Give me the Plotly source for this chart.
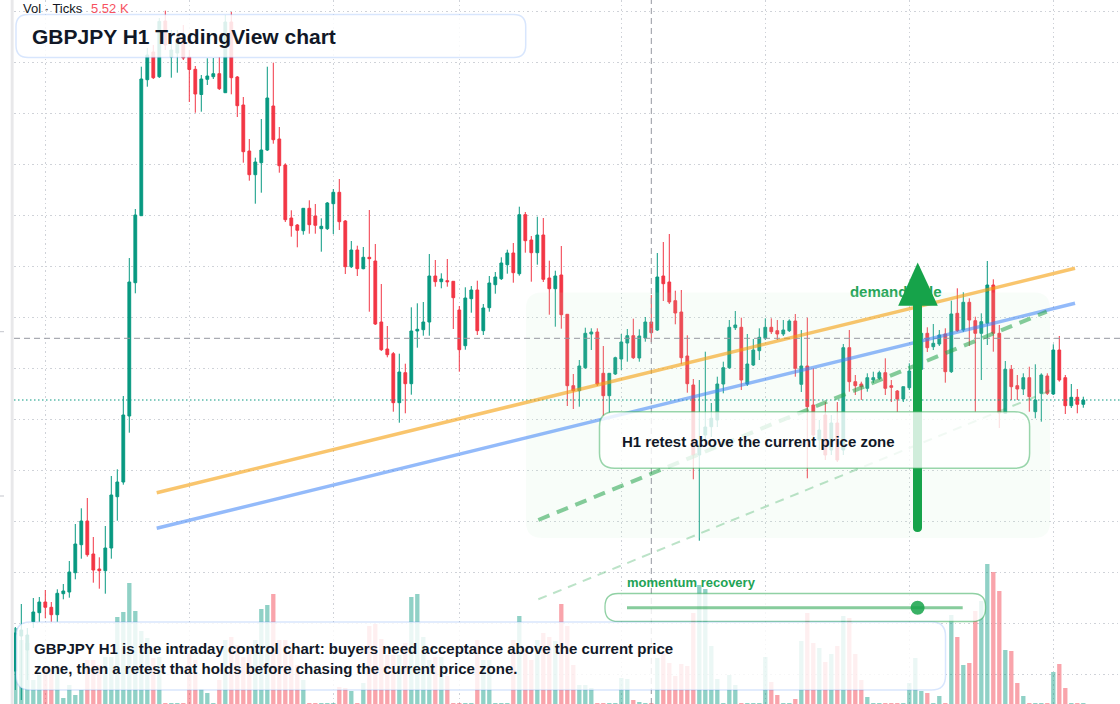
import plotly.graph_objects as go

W, H = 1120, 704

# ---------------- data (GBPJPY, H1) ----------------
open_ = [193.29, 193.64, 193.50, 193.783, 193.873, 193.98, 193.927, 193.853, 194.063, 194.08,
         194.273, 194.553, 194.79, 194.46, 194.31, 194.293, 194.52, 195.033, 195.18, 195.84,
         197.173, 197.843, 199.203, 199.48, 199.233, 199.79, 199.43, 199.47, 199.62, 199.43,
         199.307, 199.055, 199.207, 199.233, 199.263, 199.073, 199.78, 199.23, 198.95, 198.49,
         198.253, 198.373, 198.50, 198.94, 198.61, 198.35, 197.82, 197.75, 197.693, 197.917,
         197.84, 197.713, 197.713, 197.963, 198.077, 197.79, 197.333, 197.50, 197.313, 197.427,
         197.39, 196.78, 196.51, 196.463, 195.973, 196.273, 196.163, 196.69, 196.703, 196.78,
         197.24, 197.183, 197.193, 197.187, 196.90, 196.543, 197.013, 197.10, 196.693, 196.923,
         197.153, 197.213, 197.353, 197.47, 197.263, 197.853, 197.60, 197.473, 197.65, 197.22,
         197.113, 197.25, 196.857, 196.143, 196.093, 196.323, 196.66, 196.68, 196.267, 196.043,
         196.26, 196.41, 196.57, 196.643, 196.42, 196.62, 196.78, 196.70, 197.24, 197.18,
         196.993, 196.88, 196.44, 196.15, 195.45, 195.65, 195.733, 195.80, 196.16, 196.323,
         196.723, 196.727, 196.16, 196.35, 196.493, 196.617, 196.727, 196.693, 196.66, 196.693,
         196.79, 196.157, 196.34, 195.95, 195.60, 195.85, 195.50, 195.77, 195.50, 196.523,
         196.183, 196.16, 196.117, 196.20, 196.217, 196.273, 196.143, 196.09, 196.01, 196.123,
         196.29, 196.307, 196.667, 196.533, 196.56, 196.66, 196.283, 196.867, 196.70, 196.977,
         196.793, 196.667, 196.767, 197.15, 196.667, 195.867, 196.307, 196.143, 196.11, 196.223,
         195.883, 196.067, 196.24, 196.06, 196.50, 196.223, 195.943, 196.027, 195.957]
high = [193.73, 193.96, 193.72, 194.02, 194.03, 194.10, 193.98, 194.107, 194.16, 194.39,
        194.76, 194.917, 195.02, 194.63, 194.427, 194.74, 195.24, 195.307, 196.04, 197.42,
        197.91, 199.333, 199.52, 199.55, 199.82, 199.893, 199.70, 199.70, 199.75, 199.50,
        199.34, 199.25, 199.417, 199.42, 199.43, 199.85, 199.88, 199.24, 199.03, 198.61,
        198.423, 198.81, 199.333, 199.373, 198.73, 198.367, 197.897, 197.76, 197.92, 197.997,
        197.96, 197.817, 197.98, 198.11, 198.21, 197.80, 197.59, 197.543, 197.53, 197.90,
        197.56, 197.16, 196.74, 196.48, 196.463, 196.363, 196.927, 196.967, 196.98, 197.46,
        197.40, 197.267, 197.41, 197.19, 196.94, 197.127, 197.14, 197.193, 196.96, 197.24,
        197.28, 197.427, 197.503, 197.57, 197.933, 197.88, 197.64, 197.833, 197.82, 197.393,
        197.293, 197.54, 196.86, 196.26, 196.40, 196.723, 196.717, 196.717, 196.54, 196.27,
        196.433, 196.66, 196.71, 196.813, 196.707, 196.83, 197.05, 197.47, 197.58, 197.66,
        197.093, 197.10, 196.647, 196.21, 196.20, 196.483, 195.97, 196.233, 196.383, 196.80,
        196.89, 196.823, 196.66, 196.61, 196.717, 196.817, 196.817, 196.80, 196.80, 196.807,
        196.86, 196.70, 196.823, 196.317, 195.80, 195.98, 195.85, 195.98, 196.56, 196.70,
        196.25, 196.183, 196.267, 196.283, 196.293, 196.417, 196.20, 196.10, 196.133, 196.367,
        196.50, 196.75, 196.727, 196.76, 196.70, 196.717, 196.993, 197.117, 197.077, 197.017,
        196.833, 196.867, 197.39, 197.207, 196.75, 196.39, 196.35, 196.25, 196.267, 196.333,
        196.357, 196.267, 196.267, 196.557, 196.64, 196.25, 196.16, 196.11, 196.033]
low = [193.10, 193.00, 193.20, 193.72, 193.783, 193.817, 193.783, 193.783, 194.007, 194.023,
       194.207, 194.413, 194.433, 194.173, 194.113, 194.063, 194.413, 194.793, 195.153, 195.673,
       197.067, 197.84, 199.133, 199.21, 199.22, 199.50, 199.223, 199.273, 199.40, 198.98,
       198.873, 198.883, 199.15, 199.21, 199.10, 199.07, 199.057, 198.83, 198.373, 198.193,
       197.963, 198.073, 198.49, 198.563, 198.273, 197.78, 197.633, 197.527, 197.653, 197.663,
       197.663, 197.483, 197.70, 197.66, 197.70, 197.26, 197.32, 197.24, 197.307, 196.883,
       196.75, 196.49, 196.427, 195.883, 195.773, 195.867, 196.053, 196.523, 196.643, 196.643,
       197.133, 197.117, 197.133, 196.71, 196.283, 196.503, 196.873, 196.65, 196.65, 196.883,
       197.063, 197.20, 197.263, 197.173, 197.243, 197.473, 197.183, 197.353, 197.18, 196.853,
       196.733, 196.713, 195.94, 195.91, 195.933, 196.31, 196.50, 196.14, 195.84, 195.87,
       196.25, 196.30, 196.383, 196.41, 196.383, 196.583, 196.58, 196.69, 196.99, 196.96,
       196.757, 196.357, 196.073, 195.207, 194.593, 195.60, 195.63, 195.73, 196.067, 196.31,
       196.70, 196.10, 196.14, 196.34, 196.40, 196.60, 196.66, 196.60, 196.64, 196.68,
       196.233, 196.08, 195.217, 195.60, 195.50, 195.40, 195.45, 195.38, 195.45, 196.083,
       196.05, 196.00, 196.083, 196.17, 196.20, 196.05, 195.98, 195.88, 195.98, 196.10,
       196.25, 196.29, 196.48, 196.50, 196.54, 196.173, 196.27, 196.68, 196.68, 196.54,
       195.883, 196.20, 196.55, 196.483, 195.72, 195.86, 196.00, 196.00, 196.05, 195.883,
       195.817, 195.783, 196.05, 196.05, 196.183, 195.86, 195.92, 195.867, 195.923]
close = [193.67, 193.70, 193.65, 193.88, 193.98, 193.927, 193.853, 194.067, 194.09, 194.28,
         194.56, 194.79, 194.453, 194.30, 194.293, 194.52, 195.05, 195.18, 195.85, 197.18,
         197.85, 199.21, 199.45, 199.223, 199.786, 199.55, 199.50, 199.60, 199.42, 199.305,
         199.06, 199.21, 199.24, 199.263, 199.113, 199.78, 199.223, 198.943, 198.483, 198.253,
         198.38, 198.50, 199.02, 198.603, 198.343, 197.803, 197.743, 197.697, 197.917, 197.753,
         197.747, 197.737, 197.97, 198.077, 197.783, 197.333, 197.50, 197.313, 197.427, 197.413,
         196.76, 196.503, 196.453, 195.973, 196.28, 196.163, 196.69, 196.707, 196.78, 197.24,
         197.183, 197.21, 197.183, 197.023, 196.503, 197.02, 197.10, 196.693, 196.92, 197.17,
         197.23, 197.37, 197.47, 197.273, 197.853, 197.593, 197.473, 197.65, 197.207, 197.113,
         197.24, 196.853, 196.143, 196.093, 196.34, 196.667, 196.68, 196.16, 196.043, 196.267,
         196.423, 196.58, 196.643, 196.423, 196.64, 196.78, 196.673, 197.23, 197.163, 196.98,
         196.87, 196.423, 196.163, 195.45, 195.55, 195.73, 195.817, 196.16, 196.323, 196.727,
         196.75, 196.20, 196.36, 196.50, 196.627, 196.727, 196.683, 196.66, 196.70, 196.79,
         196.317, 196.34, 195.933, 195.65, 195.70, 195.45, 195.77, 195.40, 196.523, 196.183,
         196.143, 196.133, 196.223, 196.223, 196.273, 196.117, 196.127, 196.01, 196.133, 196.29,
         196.45, 196.667, 196.523, 196.567, 196.65, 196.283, 196.86, 196.693, 196.977, 196.80,
         196.667, 196.783, 197.15, 196.667, 195.87, 196.307, 196.133, 196.11, 196.223, 196.033,
         196.00, 196.25, 196.067, 196.50, 196.20, 195.943, 196.027, 195.957, 196.00]
volume = [3040, 2560, 2440, 960, 1160, 1480, 1360, 1560, 240, 760,
          360, 560, 1760, 1760, 1560, 1880, 1880, 3480, 3680, 4840,
          3720, 2920, 2640, 1840, 1880, 40, 40, 40, 40, 2040,
          1760, 600, 440, 40, 960, 2560, 2680, 2360, 1880, 2160,
          2560, 3800, 3960, 4400, 2560, 2560, 2160, 1560, 960, 40,
          40, 40, 40, 40, 680, 640, 520, 40, 840, 3120,
          3200, 2600, 1960, 1960, 1960, 2440, 4280, 4400, 2680, 1760,
          1880, 1880, 1120, 40, 40, 40, 40, 2560, 1760, 1760,
          40, 40, 40, 2560, 3520, 2160, 1760, 2560, 2840, 2680,
          2520, 4000, 3120, 1560, 760, 760, 640, 40, 40, 40,
          40, 1040, 1000, 160, 80, 40, 40, 1840, 2040, 1640,
          1120, 1600, 1520, 3640, 4760, 4600, 2320, 1000, 40, 1160,
          760, 40, 40, 40, 40, 1880, 880, 360, 40, 40,
          200, 2520, 3640, 2440, 2240, 1680, 2000, 2320, 3520, 3440,
          2000, 960, 280, 40, 40, 40, 40, 40, 40, 840,
          1840, 520, 440, 40, 320, 40, 3560, 2680, 1560, 1640,
          3720, 4120, 5600, 5280, 4520, 2160, 2120, 840, 320, 40,
          40, 40, 40, 1280, 1600, 640, 40, 40, 40]
bar_index = list(range(len(close)))

title_text = "GBPJPY H1 TradingView chart"
legend_label = "Vol · Ticks"
legend_value = "5.52 K"
retest_label = "H1 retest above the current price zone"
demand_label = "demand side"
momentum_label = "momentum recovery"
note_text = ("GBPJPY H1 is the intraday control chart: buyers need acceptance above the current price"
             "<br>zone, then a retest that holds before chasing the current price zone.")

# drawing anchors (bar index, price)
orange_line = [(23.57, 195.073), (176.62, 197.317)]
blue_line = [(23.57, 194.717), (176.62, 196.967)]
green_dash = [(87.17, 194.80), (171.9, 196.883)]
green_dash_light = [(87.17, 194.007), (172.73, 196.10)]
crosshair_bar = 106
crosshair_price = 196.617
demand_anchor = (139.1, 197.067)

# ---------------- styling helpers ----------------
UP, DOWN = "#089981", "#F23645"
FONT = "Liberation Sans, Arial, sans-serif"
DARK = "#111827"
GREEN = "#16a34a"


def px(x, y):
    return f"{x / W:.5f},{1 - y / H:.5f}"


def rounded(x0, y0, x1, y1, r):
    return (f"M {px(x0 + r, y0)} L {px(x1 - r, y0)} Q {px(x1, y0)} {px(x1, y0 + r)} "
            f"L {px(x1, y1 - r)} Q {px(x1, y1)} {px(x1 - r, y1)} L {px(x0 + r, y1)} "
            f"Q {px(x0, y1)} {px(x0, y1 - r)} L {px(x0, y0 + r)} Q {px(x0, y0)} {px(x0 + r, y0)} Z")


vol_colors = ["rgba(8,153,129,0.45)" if c >= o else "rgba(242,54,69,0.45)"
              for o, c in zip(open_, close)]

fig = go.Figure()
fig.add_trace(go.Bar(x=bar_index, y=volume, marker=dict(color=vol_colors, line=dict(width=0)),
                     yaxis="y2", hoverinfo="skip", showlegend=False))
fig.add_trace(go.Candlestick(
    x=bar_index, open=open_, high=high, low=low, close=close,
    increasing=dict(line=dict(color=UP, width=1), fillcolor=UP),
    decreasing=dict(line=dict(color=DOWN, width=1), fillcolor=DOWN),
    whiskerwidth=0, hoverinfo="skip", showlegend=False))
fig.add_trace(go.Scatter(x=[demand_anchor[0]], y=[demand_anchor[1]], mode="text",
                         text=[demand_label], textposition="middle right",
                         textfont=dict(family=FONT, size=15, color="#22a355", weight="bold"),
                         hoverinfo="skip", showlegend=False))

shapes = []
# left axis strip
shapes.append(dict(type="rect", xref="paper", yref="paper", x0=10.7 / W, x1=13.6 / W, y0=0, y1=1,
                   fillcolor="#e8e8ea", line=dict(width=0), layer="above"))
for ty in (331.7, 496):
    shapes.append(dict(type="line", xref="paper", yref="paper", x0=0, x1=4 / W,
                       y0=1 - ty / H, y1=1 - ty / H, line=dict(color="#c3c5cc", width=1), layer="above"))
# demand zone
shapes.append(dict(type="path", xref="paper", yref="paper", path=rounded(526, 292.5, 1050, 538, 16),
                   fillcolor="rgba(198,241,206,0.12)", line=dict(width=0), layer="above"))
# crosshair + last price
shapes.append(dict(type="line", xref="paper", yref="y", x0=14 / W, x1=1, y0=crosshair_price, y1=crosshair_price,
                   line=dict(color="#9598a1", width=1, dash="6px,4px"), layer="above"))
shapes.append(dict(type="line", xref="x", yref="paper", x0=crosshair_bar, x1=crosshair_bar, y0=0, y1=1,
                   line=dict(color="#9598a1", width=1, dash="6px,4px"), layer="above"))
shapes.append(dict(type="line", xref="paper", yref="y", x0=14 / W, x1=1, y0=close[-1], y1=close[-1],
                   line=dict(color=UP, width=1.2, dash="1.5px,2.5px"), layer="above"))
# trend lines
for pts, col in ((orange_line, "rgba(245,158,11,0.6)"), (blue_line, "rgba(59,130,246,0.55)")):
    shapes.append(dict(type="line", xref="x", yref="y", x0=pts[0][0], y0=pts[0][1], x1=pts[1][0], y1=pts[1][1],
                       line=dict(color=col, width=3.5), layer="above"))
shapes.append(dict(type="line", xref="x", yref="y", x0=green_dash[0][0], y0=green_dash[0][1],
                   x1=green_dash[1][0], y1=green_dash[1][1],
                   line=dict(color="rgba(34,163,74,0.55)", width=4, dash="12px,8px"), layer="above"))
shapes.append(dict(type="line", xref="x", yref="y", x0=green_dash_light[0][0], y0=green_dash_light[0][1],
                   x1=green_dash_light[1][0], y1=green_dash_light[1][1],
                   line=dict(color="rgba(34,163,74,0.3)", width=2, dash="9px,7px"), layer="above"))
# arrow
shapes.append(dict(type="path", xref="paper", yref="paper",
                   path=(f"M {px(913, 300)} L {px(922, 300)} L {px(922, 527.5)} Q {px(922, 532)} {px(917.5, 532)} "
                         f"Q {px(913, 532)} {px(913, 527.5)} Z"),
                   fillcolor=GREEN, line=dict(width=0), layer="above"))
shapes.append(dict(type="path", xref="paper", yref="paper",
                   path=f"M {px(917.7, 262.5)} L {px(937.8, 305.8)} L {px(898.2, 305.8)} Z",
                   fillcolor=GREEN, line=dict(width=0), layer="above"))
# retest box
shapes.append(dict(type="path", xref="paper", yref="paper", path=rounded(599.5, 411.7, 1029.6, 468.3, 15),
                   fillcolor="rgba(255,255,255,0.8)", line=dict(color="rgba(34,163,74,0.45)", width=1.5),
                   layer="above"))
# momentum slider
shapes.append(dict(type="path", xref="paper", yref="paper", path=rounded(605, 593.5, 985.5, 621.5, 13),
                   fillcolor="rgba(255,255,255,0.8)", line=dict(color="rgba(34,163,74,0.5)", width=1.3),
                   layer="above"))
shapes.append(dict(type="line", xref="paper", yref="paper", x0=627 / W, x1=962.7 / W,
                   y0=1 - 607.7 / H, y1=1 - 607.7 / H, line=dict(color="rgba(34,163,74,0.55)", width=3),
                   layer="above"))
shapes.append(dict(type="circle", xref="paper", yref="paper", x0=(917.6 - 7) / W, x1=(917.6 + 7) / W,
                   y0=1 - (607.7 + 7) / H, y1=1 - (607.7 - 7) / H,
                   fillcolor="rgba(22,163,74,0.85)", line=dict(width=0), layer="above"))
# note box
shapes.append(dict(type="path", xref="paper", yref="paper", path=rounded(16, 622, 945.5, 690, 14),
                   fillcolor="rgba(255,255,255,0.82)", line=dict(color="rgba(59,130,246,0.2)", width=1.5),
                   layer="above"))
# title box
shapes.append(dict(type="path", xref="paper", yref="paper", path=rounded(16, 14.5, 525.7, 57.5, 12),
                   fillcolor="rgba(255,255,255,0.86)", line=dict(color="rgba(59,130,246,0.2)", width=1.5),
                   layer="above"))


def note(x, y, text, size, color, weight="bold"):
    return dict(xref="paper", yref="paper", x=x / W, y=1 - y / H, xanchor="left", yanchor="middle",
                text=text, showarrow=False, align="left", borderpad=0, borderwidth=0,
                font=dict(family=FONT, size=size, color=color, weight=weight))


annotations = [
    note(23, 8.5, legend_label, 13, "#131722", "normal"),
    note(90.5, 8.5, legend_value, 13, "#f7525f", "normal"),
    note(32, 36, title_text, 21, DARK),
    note(622, 441, retest_label, 15, DARK),
    note(627, 582.7, momentum_label, 13, "#22a355"),
    note(34, 658.3, note_text, 15, DARK),
]

fig.update_layout(
    width=W, height=H, margin=dict(l=0, r=0, t=0, b=0),
    paper_bgcolor="white", plot_bgcolor="white",
    showlegend=False, hovermode=False, boxgap=0.34, bargap=0.28,
    shapes=shapes, annotations=annotations,
    xaxis=dict(domain=[14 / W, 1], range=[-0.2167, 184.117], rangeslider=dict(visible=False),
               showticklabels=False, ticks="", zeroline=False, showline=False,
               tickmode="array", tickvals=[5, 29, 53, 74, 101, 125, 149, 173],
               showgrid=True, gridcolor="#cfd2d8", griddash="1.5px,3px", gridwidth=1),
    yaxis=dict(domain=[0, 1], range=[192.96, 200.0], showticklabels=False, ticks="", zeroline=False,
               showline=False, tick0=199.887, dtick=0.51,
               showgrid=True, gridcolor="#cfd2d8", griddash="1.5px,3px", gridwidth=1),
    yaxis2=dict(overlaying="y", range=[0, 28160], visible=False),
)

fig.write_html("out.html")
